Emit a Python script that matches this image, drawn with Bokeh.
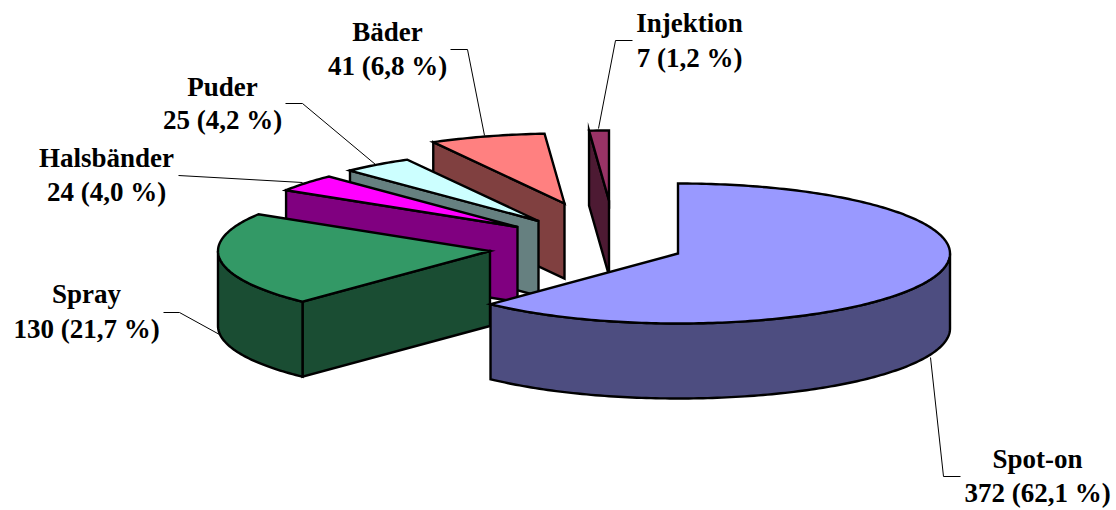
import numpy as np
from bokeh.plotting import figure
from bokeh.models import ColumnDataSource
from bokeh.core.properties import value
from bokeh.embed import file_html
from bokeh.resources import INLINE

# --- data ---
categories = ["Spot-on", "Spray", "Halsbänder", "Puder", "Bäder", "Injektion"]
counts = [372, 130, 24, 25, 41, 7]
share_labels = ["372 (62,1 %)", "130 (21,7 %)", "24 (4,0 %)", "25 (4,2 %)", "41 (6,8 %)", "7 (1,2 %)"]

# --- style ---
top_colors = ["#9999FF", "#339966", "#FF00FF", "#CCFFFF", "#FF8080", "#993366"]
side_colors = ["#4D4D80", "#1A4D33", "#800080", "#668080", "#804040", "#4D1A33"]

# --- layout (page pixels) ---
RX, RY, DEPTH = 272.0, 70.0, 75.0
apex_x = [677.5, 489.5, 517.0, 538.0, 564.0, 608.5]
apex_y = [253.0, 250.5, 226.5, 220.5, 203.0, 200.0]
label_x = [1037, 86, 106, 222, 387, 689]
label_y1 = [458.5, 293.5, 157.5, 86.5, 31.5, 22.5]
label_y2 = [492, 328, 191.5, 119.5, 65.5, 57.5]
leaders = [
    ([960, 943, 930], [476, 476, 357]),
    ([163, 179, 219], [312, 312, 334]),
    ([178, 302], [175, 182]),
    ([285, 302, 375], [103, 103, 164]),
    ([450, 467, 484], [49, 49, 135]),
    ([632, 615, 598], [40, 40, 128]),
]

total = sum(counts)
edges = np.concatenate([[0.0], np.cumsum(counts)]) / total * 2 * np.pi


def rim(ax, ay, t0, t1, drop=0.0):
    n = max(2, int(np.degrees(t1 - t0)) + 2)
    t = np.linspace(t0, t1, n)
    return ax + RX * np.sin(t), ay - RY * np.cos(t) + drop


xs, ys, fills = [], [], []


def add(x, y, c):
    xs.append(list(x))
    ys.append(list(y))
    fills.append(c)


# painter's order: back slices first, Spot-on last
for i in range(len(counts) - 1, -1, -1):
    t0, t1 = edges[i], edges[i + 1]
    ax, ay = apex_x[i], apex_y[i]
    for t, vis in ((t0, np.sin(t0) < -1e-9), (t1, np.sin(t1) > 1e-9)):
        if vis:
            px, py = rim(ax, ay, t, t + 1e-6)
            add([ax, px[0], px[0], ax], [ay, py[0], py[0] + DEPTH, ay + DEPTH], side_colors[i])
    w0, w1 = max(t0, np.pi / 2), min(t1, 3 * np.pi / 2)
    if w1 > w0:
        ux, uy = rim(ax, ay, w0, w1)
        lx, ly = rim(ax, ay, w0, w1, DEPTH)
        add(np.r_[ux, lx[::-1]], np.r_[uy, ly[::-1]], side_colors[i])
    tx, ty = rim(ax, ay, t0, t1)
    add(np.r_[ax, tx], np.r_[ay, ty], top_colors[i])

p = figure(width=1116, height=510, x_range=(0, 1116), y_range=(510, 0),
           output_backend="svg", toolbar_location=None, min_border=0)
p.axis.visible = False
p.grid.visible = False
p.outline_line_color = None
p.background_fill_color = "white"

p.multi_line([l[0] for l in leaders], [l[1] for l in leaders], line_color="black", line_width=1)
p.patches("xs", "ys", fill_color="fills", line_color="black", line_width=2.4, line_join="miter",
          source=ColumnDataSource(dict(xs=xs, ys=ys, fills=fills)))

font = dict(text_font=value("Liberation Serif"), text_font_style="bold",
            text_font_size="27px", text_color="black", text_align="center",
            text_baseline="alphabetic")
p.text(label_x, label_y1, text=categories, **font)
p.text(label_x, label_y2, text=share_labels, **font)

open("out.html", "w").write(file_html(p, INLINE))
